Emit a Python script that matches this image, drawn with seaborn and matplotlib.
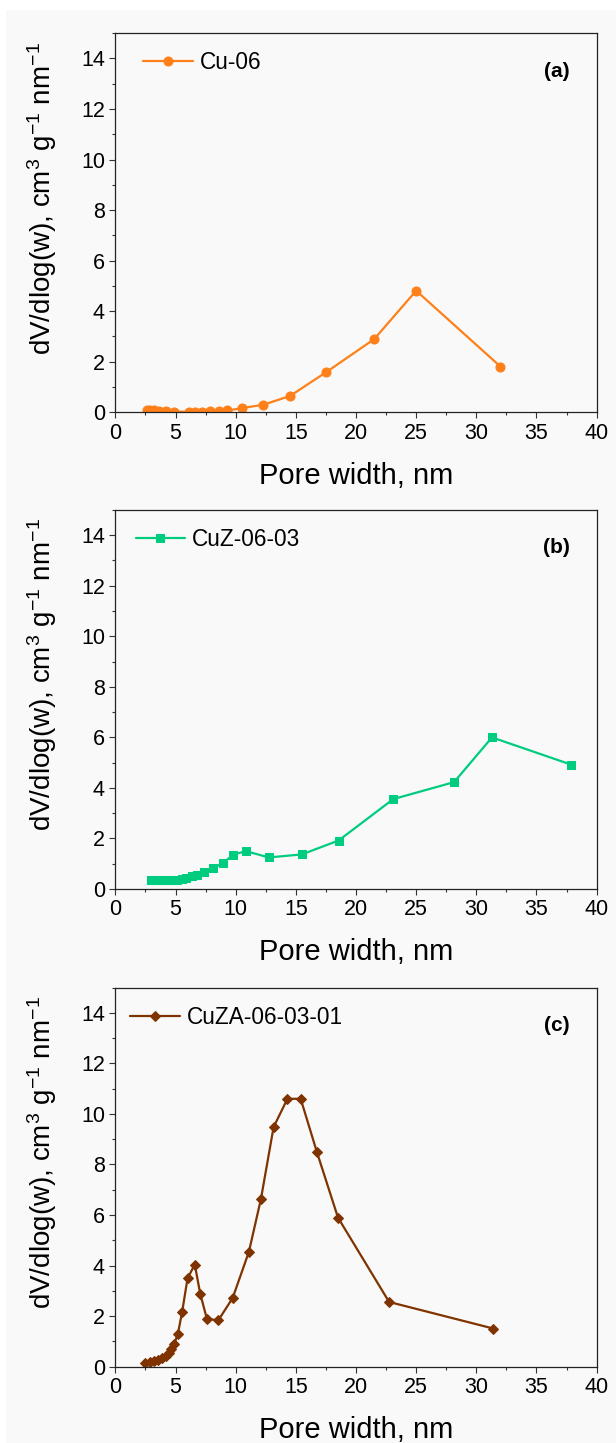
import numpy as np
import pandas as pd
import matplotlib
matplotlib.use("Agg")
import matplotlib.pyplot as plt
from matplotlib.patches import Rectangle
from matplotlib.ticker import MultipleLocator
import seaborn as sns

# Cu-06
cu_w = [2.6, 2.9, 3.2, 3.6, 4.2, 4.9, 6.1, 6.6, 7.2, 7.9, 8.6, 9.3, 10.5, 12.3, 14.5, 17.5, 21.5, 25.0, 32.0]
cu_v = [0.08, 0.08, 0.07, 0.06, 0.04, 0.03, 0.02, 0.03, 0.03, 0.04, 0.05, 0.07, 0.16, 0.30, 0.64, 1.58, 2.89, 4.81, 1.81]

# CuZ-06-03
cuz_w = [3.0, 3.4, 3.85, 4.25, 4.7, 5.1, 5.5, 5.9, 6.35, 6.75, 7.4, 8.1, 8.95, 9.8, 10.85, 12.75, 15.5, 18.55, 23.1, 28.15, 31.3, 37.9]
cuz_v = [0.37, 0.37, 0.36, 0.35, 0.35, 0.37, 0.40, 0.45, 0.50, 0.57, 0.66, 0.82, 1.03, 1.36, 1.50, 1.25, 1.37, 1.92, 3.56, 4.23, 6.0, 4.92]

# CuZA-06-03-01
cuza_w = [2.5, 2.85, 3.2, 3.55, 3.9, 4.2, 4.45, 4.65, 4.9, 5.2, 5.55, 6.0, 6.6, 7.05, 7.6, 8.55, 9.75, 11.1, 12.1, 13.15, 14.3, 15.4, 16.75, 18.5, 22.75, 31.4]
cuza_v = [0.13, 0.18, 0.22, 0.27, 0.33, 0.42, 0.55, 0.70, 0.90, 1.31, 2.17, 3.5, 4.04, 2.89, 1.90, 1.83, 2.72, 4.55, 6.64, 9.48, 10.6, 10.6, 8.49, 5.9, 2.56, 1.51]

names = ["Cu-06", "CuZ-06-03", "CuZA-06-03-01"]
tags = ["(a)", "(b)", "(c)"]
colors = ["#ff8019", "#00cc80", "#7f3300"]
markers = ["o", "s", "D"]
msizes = [6.5, 5.5, 5.2]

sns.set_style("ticks")
plt.rcParams['font.family'] = ['Liberation Sans', 'DejaVu Sans']
plt.rcParams['mathtext.fontset'] = 'custom'
plt.rcParams['mathtext.rm'] = 'Liberation Sans'
plt.rcParams['mathtext.it'] = 'Liberation Sans:italic'
plt.rcParams['text.color'] = 'black'
plt.rcParams['axes.labelcolor'] = 'black'
plt.rcParams['xtick.color'] = 'black'
plt.rcParams['ytick.color'] = 'black'

fig = plt.figure(figsize=(6.16, 14.43), dpi=100, facecolor="white")
bg = Rectangle((6 / 616, 0), 1, 1 - 10 / 1443, transform=fig.transFigure,
               facecolor="#f9f9f9", edgecolor="none", zorder=-10)
fig.add_artist(bg)

bottoms = [0.7143, 0.3839, 0.0529]
legend_x = [0.057, 0.042, 0.030]
data = [(cu_w, cu_v), (cuz_w, cuz_v), (cuza_w, cuza_v)]

for i in range(3):
    ax = fig.add_axes([0.1873, bottoms[i], 0.7813, 0.2627])
    ax.set_facecolor("#f9f9f9")
    df = pd.DataFrame({"w": data[i][0], "v": data[i][1]})
    sns.lineplot(data=df, x="w", y="v", ax=ax, color=colors[i], marker=markers[i],
                 markersize=msizes[i], markeredgecolor=colors[i], linewidth=1.6,
                 sort=False, estimator=None, label=names[i])
    ax.set_xlim(0, 40)
    ax.set_ylim(0, 15)
    ax.xaxis.set_major_locator(MultipleLocator(5))
    ax.xaxis.set_minor_locator(MultipleLocator(2.5))
    ax.yaxis.set_major_locator(MultipleLocator(2))
    ax.yaxis.set_minor_locator(MultipleLocator(1))
    ax.tick_params(which="major", length=4.5, width=0.8, labelsize=15.5, pad=3,
                   color="#333333", labelcolor="black")
    ax.tick_params(which="minor", length=2.5, width=0.8, color="#333333")
    for s in ax.spines.values():
        s.set_linewidth(0.9)
        s.set_color("#222222")
    ax.set_xlabel("Pore width, nm", fontsize=21)
    ax.set_ylabel(r"dV/dlog(w), cm$^{3}$ g$^{-1}$ nm$^{-1}$", fontsize=20)
    ax.xaxis.set_label_coords(0.5, -0.13)
    ax.yaxis.set_label_coords(-0.117, 0.565)
    ax.legend(loc="center left", bbox_to_anchor=(legend_x[i], 0.922), frameon=False,
              fontsize=16.3, handlelength=2.2, handletextpad=0.3, borderpad=0,
              borderaxespad=0, numpoints=1)
    ax.text(0.917, 0.90, tags[i], transform=ax.transAxes, fontsize=15, fontweight="bold",
            ha="center", va="center")

fig.savefig("out.png", dpi=100, facecolor=fig.get_facecolor())
